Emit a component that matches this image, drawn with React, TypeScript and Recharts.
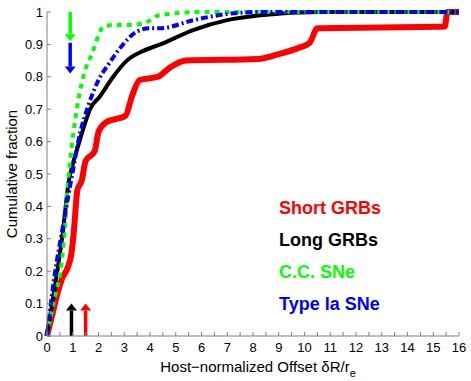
import { LineChart, Line, XAxis, YAxis, ReferenceLine } from 'recharts'

const shortGrbX = [0, 0.25, 0.4, 0.6, 0.8, 0.96, 1.05, 1.18, 1.35, 1.5, 1.85, 2.0, 2.3, 3.05, 3.3, 3.6, 4.3, 4.8, 5.4, 8.2, 9.0, 9.8, 10.2, 10.5, 15.45, 15.55, 16]
const shortGrbY = [0, 0.08, 0.13, 0.18, 0.21, 0.26, 0.33, 0.45, 0.48, 0.54, 0.57, 0.63, 0.66, 0.68, 0.74, 0.79, 0.8, 0.83, 0.85, 0.855, 0.87, 0.89, 0.905, 0.95, 0.955, 1.0, 1.0]

const longGrbX = [0, 0.3, 0.6, 0.85, 1.0, 1.22, 1.45, 1.67, 2.06, 2.57, 3.1, 3.74, 4.4, 5.7, 7.0, 8.3, 10.6, 16]
const longGrbY = [0, 0.15, 0.31, 0.48, 0.53, 0.59, 0.65, 0.7, 0.74, 0.8, 0.85, 0.88, 0.9, 0.945, 0.975, 0.99, 1.0, 1.0]

const ccSneX = [0, 0.3, 0.5, 0.63, 0.83, 0.96, 1.22, 1.48, 1.74, 2.2, 2.6, 3.2, 3.9, 4.35, 6.0, 16]
const ccSneY = [0, 0.12, 0.19, 0.27, 0.49, 0.585, 0.73, 0.82, 0.87, 0.955, 0.96, 0.96, 0.97, 0.99, 1.0, 1.0]

const iaSneX = [0, 0.3, 0.6, 0.96, 1.28, 1.6, 2.0, 2.4, 2.85, 3.5, 4.0, 4.4, 5.7, 7.0, 8.3, 16]
const iaSneY = [0, 0.19, 0.33, 0.49, 0.625, 0.71, 0.79, 0.84, 0.89, 0.94, 0.95, 0.95, 0.975, 0.994, 1.0, 1.0]

// median markers
const arrowX = [0.9, 0.9, 0.95, 1.5]
const arrowFrom = [1.0, 0.905, 0, 0]
const arrowTo = [0.91, 0.81, 0.1, 0.1]
const arrowColors = ['#00ff00', '#0000ff', '#000000', '#ff0000']

const xTicks = [0, 0.5, 1, 1.5, 2, 2.5, 3, 3.5, 4, 4.5, 5, 5.5, 6, 6.5, 7, 7.5, 8, 8.5, 9, 9.5, 10, 10.5, 11, 11.5, 12, 12.5, 13, 13.5, 14, 14.5, 15, 15.5, 16]
const yTicks = [0, 0.1, 0.2, 0.3, 0.4, 0.5, 0.6, 0.7, 0.8, 0.9, 1]

const legendNames = ['Short GRBs', 'Long GRBs', 'C.C. SNe', 'Type Ia SNe']
const legendColors = ['#ff0000', '#000000', '#00ff00', '#0000ff']

const zip = (xs: number[], ys: number[]) => xs.map((x, i) => ({ x, y: ys[i] }))

const FONT = '"Liberation Sans", Arial, sans-serif'
const AXIS = '#808080'

function Arrow(props: any) {
  const { x1, y1, x2, y2, stroke } = props
  const dir = y2 > y1 ? 1 : -1
  const head = 7
  const half = 5.5
  return (
    <g>
      <line x1={x1} y1={y1} x2={x2} y2={y2 - dir * head} stroke={stroke} strokeWidth={3.5} />
      <polygon points={`${x2},${y2} ${x2 - half},${y2 - dir * head} ${x2 + half},${y2 - dir * head}`} fill={stroke} />
    </g>
  )
}

function XLabel(props: any) {
  const { viewBox } = props
  const cx = viewBox.x + viewBox.width / 2 + 5
  return (
    <text x={cx} y={372} textAnchor="middle" fontSize={15} fontFamily={FONT} fill="#000">
      Host−normalized Offset δR/r
      <tspan fontSize={11} dy={5}>e</tspan>
    </text>
  )
}

function YLabel(props: any) {
  const { viewBox } = props
  const cy = viewBox.y + viewBox.height / 2
  return (
    <text x={17} y={cy} transform={`rotate(-90 17 ${cy})`} textAnchor="middle" fontSize={15} fontFamily={FONT} fill="#000">
      Cumulative fraction
    </text>
  )
}

export default function App() {
  const tickStyle = { fill: '#000', fontSize: 13, fontFamily: FONT }
  return (
    <div style={{ position: 'absolute', left: 0, top: 0, width: 471, height: 381, background: '#fff' }}>
      <LineChart width={471} height={381} margin={{ top: 12, right: 12, bottom: 20, left: 0 }}>
        <XAxis xAxisId="b" type="number" dataKey="x" domain={[0, 16]} ticks={xTicks} interval={0}
          tickFormatter={(v: number) => (Number.isInteger(v) ? String(v) : '')}
          tick={tickStyle} tickSize={-4} tickMargin={11} height={25}
          axisLine={{ stroke: AXIS }} tickLine={{ stroke: AXIS }} label={<XLabel />} />
        <XAxis xAxisId="t" orientation="top" type="number" dataKey="x" domain={[0, 16]} ticks={xTicks} interval={0}
          tickFormatter={() => ''} tickSize={-4} height={0}
          axisLine={{ stroke: AXIS }} tickLine={{ stroke: AXIS }} />
        <YAxis yAxisId="l" type="number" domain={[0, 1]} ticks={yTicks} interval={0}
          tick={tickStyle} tickSize={-4} tickMargin={8} width={47}
          axisLine={{ stroke: AXIS }} tickLine={{ stroke: AXIS }} label={<YLabel />} />
        <YAxis yAxisId="r" orientation="right" type="number" domain={[0, 1]} ticks={yTicks} interval={0}
          tickFormatter={() => ''} tickSize={-4} width={0}
          axisLine={{ stroke: AXIS }} tickLine={{ stroke: AXIS }} />

        <Line xAxisId="b" yAxisId="l" data={zip(shortGrbX, shortGrbY)} dataKey="y" type="monotone"
          stroke="#ff0000" strokeWidth={6} dot={false} isAnimationActive={false} />
        <Line xAxisId="b" yAxisId="l" data={zip(longGrbX, longGrbY)} dataKey="y" type="monotone"
          stroke="#000000" strokeWidth={4} dot={false} isAnimationActive={false} />
        <Line xAxisId="b" yAxisId="l" data={zip(ccSneX, ccSneY)} dataKey="y" type="monotone"
          stroke="#00ff00" strokeWidth={4} strokeDasharray="5 5" dot={false} isAnimationActive={false} />
        <Line xAxisId="b" yAxisId="l" data={zip(iaSneX, iaSneY)} dataKey="y" type="monotone"
          stroke="#0000ff" strokeWidth={4} strokeDasharray="7 3 2 3" dot={false} isAnimationActive={false} />

        {arrowX.map((x, i) => (
          <ReferenceLine key={i} xAxisId="b" yAxisId="l" ifOverflow="visible"
            segment={[{ x, y: arrowFrom[i] }, { x, y: arrowTo[i] }]}
            stroke={arrowColors[i]} shape={<Arrow />} />
        ))}
      </LineChart>
      <div style={{ position: 'absolute', left: 279, top: 194, fontFamily: FONT, fontWeight: 700, fontSize: 18 }}>
        {legendNames.map((n, i) => (
          <div key={n} style={{ color: legendColors[i], height: 32, lineHeight: '28px' }}>{n}</div>
        ))}
      </div>
    </div>
  )
}
